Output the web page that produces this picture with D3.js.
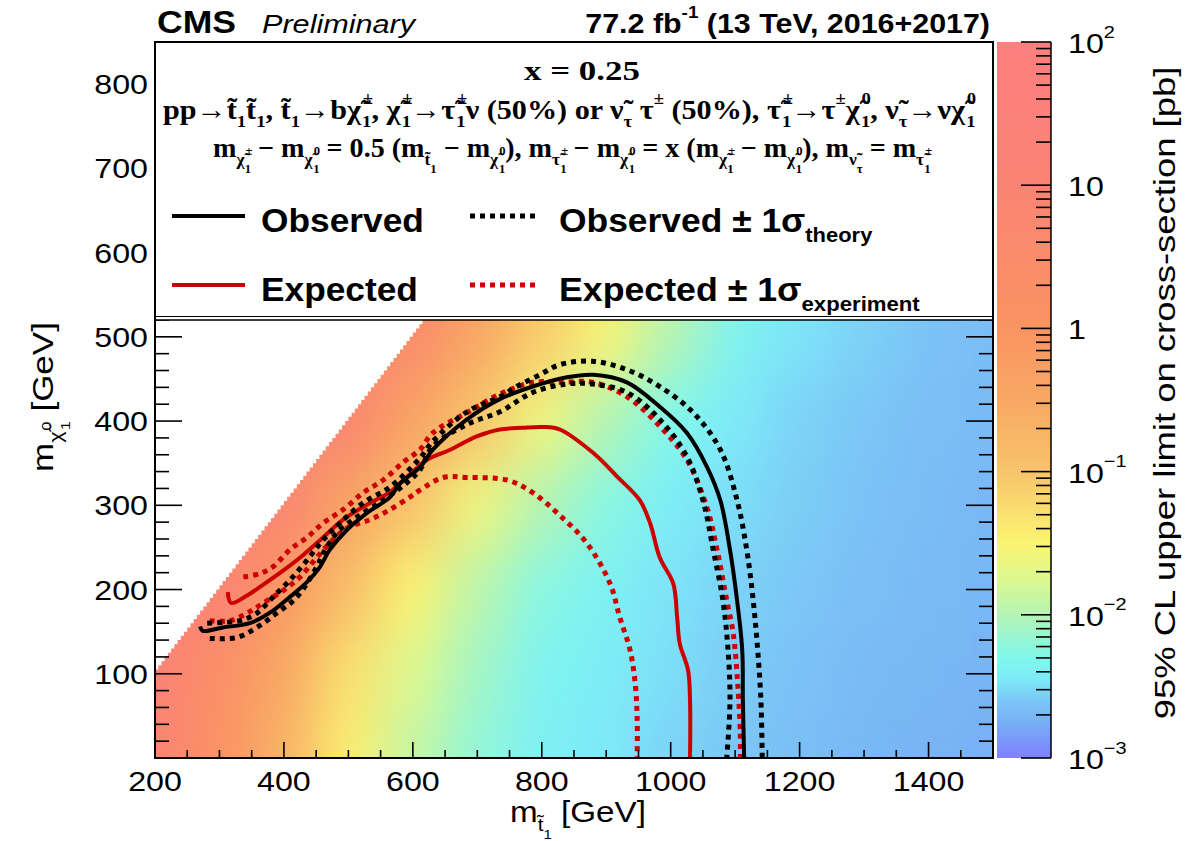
<!DOCTYPE html>
<html>
<head>
<meta charset="utf-8">
<script src="https://cdn.jsdelivr.net/npm/d3@7"></script>
<style>
  body { margin: 0; background: #fff; }
  svg { display: block; }
</style>
</head>
<body>
<svg id="chart" width="1185" height="841"></svg>
<script>
// ---- data ----

// heat map: 95% CL upper limit, log10(pb), cells 100 GeV wide
const stopMass = [200, 300, 400, 500, 600, 700, 800, 900, 1000, 1100, 1200, 1300, 1400, 1500];
const lspMass = [0, 100, 200, 300, 400, 500, 600];
const limitLog10 = [
  [1.0, 0.1, -0.7, -1.45, -1.9, -2.2, -2.4, -2.45, -2.55, -2.6, -2.65, -2.7, -2.72, -2.75],
  [1.2, 0.3, -0.5, -1.3, -1.75, -2.1, -2.35, -2.42, -2.5, -2.58, -2.63, -2.68, -2.7, -2.72],
  [1.5, 1.0, -0.1, -0.9, -1.5, -1.95, -2.25, -2.38, -2.48, -2.55, -2.6, -2.65, -2.68, -2.7],
  [1.7, 1.3, 0.9, -0.4, -1.0, -1.6, -2.0, -2.25, -2.42, -2.5, -2.57, -2.62, -2.66, -2.7],
  [1.8, 1.5, 1.2, 0.8, -0.4, -1.0, -1.6, -2.0, -2.3, -2.45, -2.55, -2.6, -2.65, -2.68],
  [1.9, 1.6, 1.4, 1.1, 0.5, -0.5, -1.1, -1.55, -2.0, -2.35, -2.48, -2.56, -2.62, -2.66],
  [2.0, 1.7, 1.5, 1.2, 0.8, 0.0, -0.8, -1.3, -1.8, -2.2, -2.4, -2.5, -2.6, -2.65]
];
const diagonalGap = 100; // no points above m(lsp) = m(stop) - 100

// colour palette (log10 pb -> colour)
const paletteLog10 = [-3, -2.75, -2.6, -2.45, -2.3, -2.0, -1.75, -1.5, -1.0, -0.5, 0, 1, 2];
const paletteColors = ['#8080ff', '#78b0f4', '#7cc6f6', '#7eeaf8', '#80f8ec', '#b4f4b4', '#dcf890',
  '#fbf472', '#f8c46c', '#f8a864', '#fa9462', '#fa8474', '#ff7f80'];

// exclusion contours [m(stop), m(lsp)] in GeV
const observed = [[270,156],[274,151],[305,155],[347,160],[383,175],[409,191],[436,209],[456,227],[471,247],
  [498,271],[529,291],[565,310],[580,326],[611,345],[631,366],[684,402],[735,426],[786,441],[839,452],
  [880,455],[932,446],[983,417],[1025,386],[1056,346],[1077,306],[1092,247],[1103,187],[1111,128],
  [1112,68],[1114,0]];
const observedUp = [[281,160],[305,161],[332,163],[358,172],[383,191],[409,211],[436,235],[461,259],
  [487,279],[523,303],[565,322],[611,356],[631,376],[684,411],[735,429],[761,441],[797,455],[828,467],
  [879,471],[932,461],[983,441],[1035,410],[1077,366],[1103,306],[1118,247],[1128,187],[1135,128],
  [1140,68],[1142,0]];
const observedDown = [[285,142],[327,143],[358,155],[389,172],[420,191],[451,227],[461,243],[482,267],
  [513,286],[554,306],[591,327],[611,342],[631,370],[684,396],[735,411],[786,434],[839,444],[879,444],
  [932,434],[983,402],[1025,358],[1050,306],[1066,247],[1081,187],[1089,128],[1092,68],[1087,0]];
const expected = [[313,197],[318,184],[343,193],[374,209],[405,226],[430,241],[461,262],[492,283],
  [534,303],[565,316],[600,340],[622,354],[658,366],[700,382],[735,390],[770,392],[802,393],[828,390],
  [880,362],[917,334],[952,306],[968,279],[983,238],[1004,207],[1010,167],[1014,136],[1027,104],
  [1030,68],[1030,0]];
const expectedUp = [[337,215],[363,219],[383,227],[409,247],[436,262],[461,279],[492,295],[523,315],
  [554,330],[585,351],[611,366],[631,386],[684,410],[735,432],[786,446],[828,446],[879,446],[932,429],
  [983,394],[1025,354],[1056,298],[1072,247],[1087,187],[1097,148],[1104,88],[1108,29],[1108,0]];
const expectedDown = [[285,163],[316,163],[343,172],[368,184],[399,199],[425,215],[451,238],[476,259],
  [498,273],[534,283],[565,295],[596,310],[611,318],[647,333],[684,333],[746,330],[786,315],[828,288],
  [870,255],[906,207],[921,167],[937,128],[945,88],[948,48],[948,0]];

// axis ticks
const xMajor = [200, 400, 600, 800, 1000, 1200, 1400];
const yMajor = [100, 200, 300, 400, 500, 600, 700, 800];
const zDecades = [1e-3, 1e-2, 1e-1, 1, 10, 100];
const zLabels = [['10', '\u22123'], ['10', '\u22122'], ['10', '\u22121'], ['1', ''], ['10', ''], ['10', '2']];

// ---- drawing ----
const svg = d3.select('#chart');
const defs = svg.append('defs');
const sans = "'Liberation Sans', Arial, Helvetica, sans-serif";
const serif = "'Liberation Serif', 'Times New Roman', serif";
const red = '#cc0000';

const plotL = 155, plotR = 993, plotT = 42, plotB = 758;
const x = d3.scaleLinear().domain([200, 1500]).range([plotL, plotR]);
const y = d3.scaleLinear().domain([0, 850]).range([plotB, plotT]);
const z = d3.scaleLog().domain([1e-3, 1e2]).range([plotB, plotT]);
const palette = d3.scaleLinear().domain(paletteLog10).range(paletteColors).clamp(true);

// clips
defs.append('clipPath').attr('id', 'plotClip').append('rect')
  .attr('x', plotL).attr('y', plotT).attr('width', plotR - plotL).attr('height', plotB - plotT);
const edge = [[200, 0], [1500, 0], [1500, 850]];
for (let m = 850 + diagonalGap; m > 200; m -= 5) edge.push([m, m - diagonalGap], [m - 5, m - diagonalGap]);
defs.append('clipPath').attr('id', 'diagClip').append('polygon')
  .attr('points', edge.map(d => x(d[0]) + ',' + y(d[1])).join(' '));

const soft = defs.append('filter').attr('id', 'soft').attr('color-interpolation-filters', 'sRGB')
  .attr('x', -0.1).attr('y', -0.1).attr('width', 1.2).attr('height', 1.2);
soft.append('feGaussianBlur').attr('stdDeviation', '24 28');
soft.append('feComponentTransfer').append('feFuncA').attr('type', 'table').attr('tableValues', '1 1');

// heat map
const cells = [];
lspMass.forEach((my, j) => stopMass.forEach((mx, i) => cells.push({ mx, my, v: limitLog10[j][i] })));
svg.append('g').attr('clip-path', 'url(#plotClip)')
  .append('g').attr('clip-path', 'url(#diagClip)')
  .append('g').attr('filter', 'url(#soft)')
  .selectAll('rect').data(cells).join('rect')
  .attr('x', d => x(d.mx - 50)).attr('y', d => y(d.my + 50))
  .attr('width', d => x(d.mx + 50) - x(d.mx - 50) + 0.5)
  .attr('height', d => y(d.my - 50) - y(d.my + 50) + 0.5)
  .attr('fill', d => palette(d.v));

// contours
const line = d3.line().x(d => x(d[0])).y(d => y(d[1])).curve(d3.curveCatmullRom.alpha(0.5));
const curves = svg.append('g').attr('clip-path', 'url(#plotClip)').attr('fill', 'none');
const contourSet = [
  [expectedUp, red, 5, '5,5'], [expectedDown, red, 5, '5,5'], [expected, red, 4, null],
  [observedUp, '#000', 5, '5,5'], [observedDown, '#000', 5, '5,5'], [observed, '#000', 4, null]
];
contourSet.forEach(([pts, col, w, dash]) => {
  curves.append('path').attr('d', line(pts)).attr('stroke', col).attr('stroke-width', w)
    .attr('stroke-dasharray', dash);
});

// tick marks pointing into the frame
const tickLayer = svg.append('g').attr('stroke', '#000').attr('stroke-width', 1.6);
function hTicks(vals, scale, x0, len) {
  tickLayer.append('g').selectAll('line').data(vals).join('line')
    .attr('x1', x0).attr('x2', x0 + len).attr('y1', d => scale(d)).attr('y2', d => scale(d));
}
function vTicks(vals, scale, y0, len) {
  tickLayer.append('g').selectAll('line').data(vals).join('line')
    .attr('y1', y0).attr('y2', y0 - len).attr('x1', d => scale(d)).attr('x2', d => scale(d));
}
const xMinor = d3.range(250, 1500, 50).filter(v => v % 200 !== 0);
const yMinor = d3.range(20, 850, 20).filter(v => v % 100 !== 0);
vTicks(xMinor, x, plotB, 8);
vTicks(xMajor, x, plotB, 16);
hTicks(yMinor, y, plotL, 14);
hTicks(yMajor, y, plotL, 27);
hTicks(yMinor, y, plotR, -14);
hTicks(yMajor, y, plotR, -27);

// tick labels
svg.append('g').selectAll('text').data(xMajor).join('text')
  .attr('transform', d => `translate(${x(d)},791) scale(1.15,1)`).attr('text-anchor', 'middle')
  .attr('font-family', sans).attr('font-size', 28).text(d => d);
svg.append('g').selectAll('text').data(yMajor).join('text')
  .attr('transform', d => `translate(148,${y(d) + 10}) scale(1.15,1)`).attr('text-anchor', 'end')
  .attr('font-family', sans).attr('font-size', 28).text(d => d);

// legend box
svg.append('rect').attr('x', plotL).attr('y', plotT).attr('width', plotR - plotL).attr('height', 320 - plotT)
  .attr('fill', '#fff').attr('stroke', '#000').attr('stroke-width', 1.5);
svg.append('line').attr('x1', plotL).attr('x2', plotR).attr('y1', 316.5).attr('y2', 316.5)
  .attr('stroke', '#000').attr('stroke-width', 1.2);

// frame
svg.append('rect').attr('x', plotL).attr('y', plotT).attr('width', plotR - plotL).attr('height', plotB - plotT)
  .attr('fill', 'none').attr('stroke', '#000').attr('stroke-width', 2);

// colour bar
const grad = defs.append('linearGradient').attr('id', 'zgrad').attr('x1', 0).attr('y1', 1).attr('x2', 0).attr('y2', 0);
paletteLog10.forEach(v => grad.append('stop').attr('offset', (v + 3) / 5).attr('stop-color', palette(v)));
svg.append('rect').attr('x', 997).attr('y', plotT).attr('width', 54).attr('height', plotB - plotT)
  .attr('fill', 'url(#zgrad)');
const zMinor = [];
zDecades.slice(0, -1).forEach(d => { for (let k = 2; k < 10; k++) zMinor.push(d * k); });
const zTicks = svg.append('g').attr('stroke', '#000').attr('stroke-width', 1.6);
zTicks.selectAll('.mn').data(zMinor).join('line').attr('class', 'mn')
  .attr('x1', 1036).attr('x2', 1051).attr('y1', d => z(d)).attr('y2', d => z(d));
zTicks.selectAll('.mj').data(zDecades).join('line').attr('class', 'mj')
  .attr('x1', 1021).attr('x2', 1051).attr('y1', d => z(d)).attr('y2', d => z(d));
svg.append('line').attr('x1', 1051).attr('x2', 1051).attr('y1', plotT).attr('y2', plotB)
  .attr('stroke', '#000').attr('stroke-width', 1.5);

// ---- text helpers ----
// level: [size factor, baseline offset in em of the main size]
const levels = { n: [1, 0], sub: [0.62, 0.3], sup: [0.62, -0.55], sub2: [0.45, 0.6], sup2: [0.45, -0.08] };
function rich(parts, size, family, weight) {
  const t = svg.append('text').attr('font-family', family).attr('font-weight', weight || 'bold')
    .attr('font-size', size).attr('fill', '#000');
  let cur = 0;
  parts.forEach(([s, lv, shift]) => {
    const [f, off] = levels[lv];
    const ts = t.append('tspan').attr('font-size', size * f).attr('dy', (off - cur) * size).text(s);
    if (shift) ts.attr('dx', shift * size);
    cur = off;
  });
  return t;
}
function place(t, px, py, width, rot, stretch) {
  const w = t.node().getBBox().width;
  const sx = width ? width / w : (stretch || 1);
  t.attr('transform', `translate(${px},${py})${rot ? ` rotate(${rot})` : ''} scale(${sx},1)`);
  return t;
}
const tl = '\u0303'; // combining tilde

// header
place(rich([['CMS', 'n']], 31, sans), 157, 33, 79);
place(rich([['Preliminary', 'n']], 25, sans, 'normal').attr('font-style', 'italic'), 262, 33, 155);
place(rich([['77.2 fb', 'n'], ['-1', 'sup'], [' (13 TeV, 2016+2017)', 'n']], 28, sans)
  .attr('text-anchor', 'end'), 990, 33, 405);

// legend text
place(rich([['x = 0.25', 'n']], 27, serif).attr('text-anchor', 'middle'), 582, 80, 116);
const pm1 = [['\u00b1', 'sup', 0.06], ['1', 'sub', -0.36]];
const zero1 = [['0', 'sup', 0.06], ['1', 'sub', -0.33]];
const process = [
  ['pp\u2192t' + tl, 'n'], ['1', 'sub'], ['t' + tl, 'n'], ['1', 'sub'], [', t' + tl, 'n'], ['1', 'sub'],
  ['\u2192b\u03c7' + tl, 'n'], ...pm1, [', \u03c7' + tl, 'n'], ...pm1, ['\u2192\u03c4' + tl, 'n'], ...pm1,
  ['\u03bd (50%) or \u03bd' + tl, 'n'], ['\u03c4', 'sub'], [' \u03c4', 'n'], ['\u00b1', 'sup'],
  [' (50%), \u03c4' + tl, 'n'], ...pm1,
  ['\u2192\u03c4', 'n'], ['\u00b1', 'sup'], ['\u03c7' + tl, 'n'], ...zero1,
  [', \u03bd' + tl, 'n'], ['\u03c4', 'sub'], ['\u2192\u03bd\u03c7' + tl, 'n'], ...zero1
];
place(rich(process, 28, serif), 163, 119, 814);
const chiPM = [['\u03c7' + tl, 'sub'], ['\u00b1', 'sup2', 0.04], ['1', 'sub2', -0.28]];
const chi0 = [['\u03c7' + tl, 'sub'], ['0', 'sup2', 0.04], ['1', 'sub2', -0.24]];
const stauPM = [['\u03c4' + tl, 'sub'], ['\u00b1', 'sup2', 0.04], ['1', 'sub2', -0.28]];
const masses = [
  ['m', 'n'], ...chiPM, [' \u2212 m', 'n'], ...chi0, [' = 0.5 (m', 'n'], ['t' + tl, 'sub'], ['1', 'sub2'],
  [' \u2212 m', 'n'], ...chi0, ['), m', 'n'], ...stauPM, [' \u2212 m', 'n'], ...chi0,
  [' = x (m', 'n'], ...chiPM, [' \u2212 m', 'n'], ...chi0, ['), m', 'n'], ['\u03bd' + tl, 'sub'], ['\u03c4', 'sub2'],
  [' = m', 'n'], ...stauPM
];
place(rich(masses, 27, serif), 213, 157, 720);

// legend entries
const entries = [
  { col: '#000', y: 216, base: 232, name: 'Observed', band: 'theory', w1: 163, w2: 314 },
  { col: red, y: 285, base: 301, name: 'Expected', band: 'experiment', w1: 157, w2: 361 }
];
entries.forEach(e => {
  svg.append('line').attr('x1', 172).attr('x2', 245).attr('y1', e.y).attr('y2', e.y)
    .attr('stroke', e.col).attr('stroke-width', 4);
  svg.append('line').attr('x1', 470).attr('x2', 540).attr('y1', e.y).attr('y2', e.y)
    .attr('stroke', e.col).attr('stroke-width', 5).attr('stroke-dasharray', '5,5');
  place(rich([[e.name, 'n']], 33, sans), 261, e.base, e.w1);
  place(rich([[e.name + ' \u00b1 1\u03c3', 'n'], [e.band, 'sub']], 33, sans), 559, e.base, e.w2);
});

// axis titles
place(rich([['m', 'n'], ['t' + tl, 'sub'], ['1', 'sub2'], [' [GeV]', 'n']], 29, sans, 'normal'), 510, 822, 136);
place(rich([['m', 'n'], ['\u03c7' + tl, 'sub'], ['0', 'sup2', 0.03], ['1', 'sub2', -0.24], [' [GeV]', 'n']], 29, sans, 'normal'),
  53, 472, 150, -90);
place(rich([['95% CL upper limit on cross-section [pb]', 'n']], 29, sans, 'normal')
  .attr('text-anchor', 'middle'), 1175, 393, 653, -90);

// colour bar labels
zDecades.forEach((d, i) => {
  const [b, e] = zLabels[i];
  const parts = e ? [[b, 'n'], [e, 'sup']] : [[b, 'n']];
  place(rich(parts, 28, sans, 'normal'), 1068, z(d) + 11, null, null, 1.15);
});
</script>
</body>
</html>
